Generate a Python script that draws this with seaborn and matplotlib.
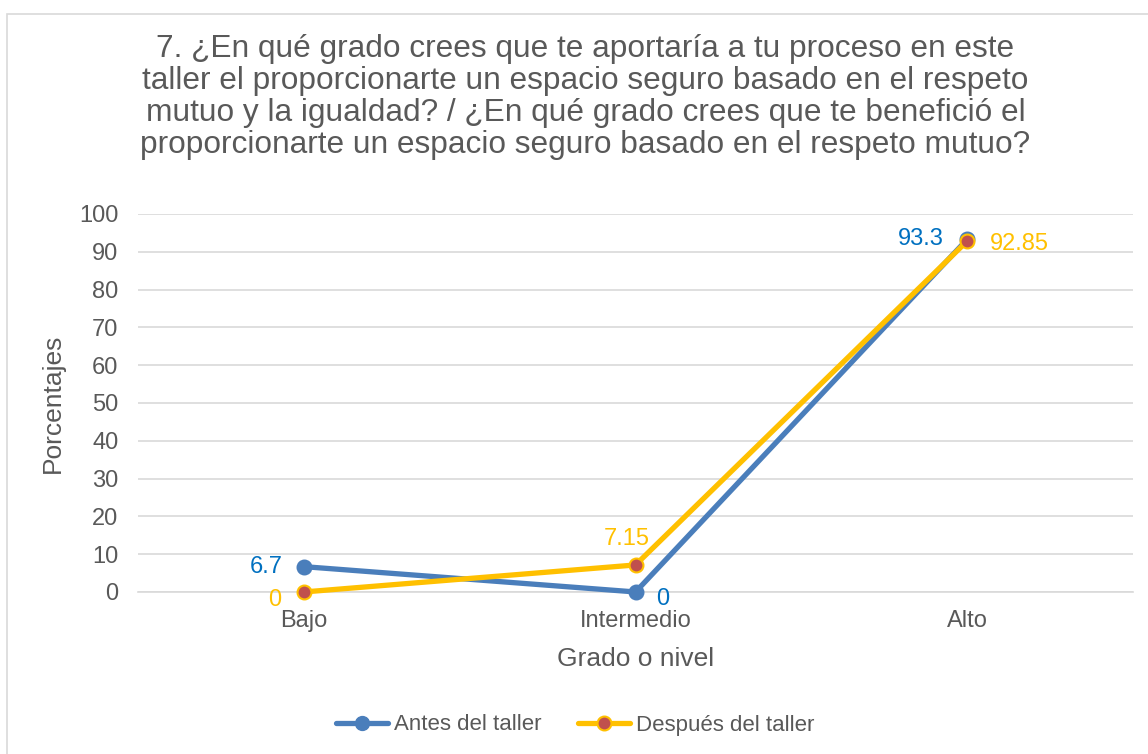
import pandas as pd
import seaborn as sns
import matplotlib.pyplot as plt
from matplotlib.patches import Rectangle

categorias = ["Bajo", "Intermedio", "Alto"]
antes = [6.7, 0, 93.3]
despues = [0, 7.15, 92.85]
antes_labels = ["6.7", "0", "93.3"]
despues_labels = ["0", "7.15", "92.85"]
serie_antes = "Antes del taller"
serie_despues = "Después del taller"

titulo = ("7. ¿En qué grado crees que te aportaría a tu proceso en este\n"
          "taller el proporcionarte un espacio seguro basado en el respeto\n"
          "mutuo y la igualdad? / ¿En qué grado crees que te benefició el\n"
          "proporcionarte un espacio seguro basado en el respeto mutuo?")

df = pd.DataFrame({
    "grado": categorias * 2,
    "valor": antes + despues,
    "serie": [serie_antes] * 3 + [serie_despues] * 3,
})
df["pos"] = df["grado"].map({c: i for i, c in enumerate(categorias)})

sns.set_theme(style="white")
plt.rcParams["font.family"] = ["Liberation Sans", "DejaVu Sans"]
gray = "#595959"
blue = "#4A7EBB"
yellow = "#FFC000"
red = "#C0504D"
lblue = "#0070C0"

fig = plt.figure(figsize=(11.48, 7.54), dpi=100)
ax = fig.add_axes([0.1202, 0.2149, 0.8668, 0.5013])

# border around chart area
fig.patches.append(Rectangle((7 / 1148, -0.1), 1.2, 1 - 14 / 754 + 0.1,
                             transform=fig.transFigure, fill=False,
                             edgecolor="#D9D9D9", linewidth=1.2))

sns.lineplot(data=df, x="pos", y="valor", hue="serie",
             palette={serie_antes: blue, serie_despues: yellow},
             linewidth=3.8, ax=ax, legend=False)
for line, face, edge, z in zip(ax.lines, [blue, red], [blue, yellow], [3, 4]):
    line.set_marker("o")
    line.set_markersize(10)
    line.set_markerfacecolor(face)
    line.set_markeredgecolor(edge)
    line.set_markeredgewidth(1.5)
    line.set_solid_capstyle("round")
    line.set_zorder(z)
    line.set_clip_on(False)

ax.set_xlim(-0.5, 2.5)
ax.set_ylim(0, 100)
ax.set_yticks(range(0, 101, 10))
ax.set_xticks(range(len(categorias)))
ax.set_xticklabels(categorias)
ax.tick_params(axis="y", labelsize=17, labelcolor=gray, length=0, pad=14)
ax.tick_params(axis="x", labelsize=17, labelcolor=gray, length=0, pad=13)
ax.yaxis.grid(True, color="#D9D9D9", linewidth=1.2)
ax.set_axisbelow(True)
for s in ["top", "right", "left"]:
    ax.spines[s].set_visible(False)
ax.spines["bottom"].set_color("#D9D9D9")
ax.spines["bottom"].set_linewidth(1.2)

ax.set_xlabel("Grado o nivel", fontsize=19, color=gray, labelpad=11)
ax.set_ylabel("Porcentajes", fontsize=19, color=gray, labelpad=10)

# data labels
offs_antes = [(-15, 0, "right"), (15, -5, "left"), (-17, 0, "right")]
offs_despues = [(-16, -6, "right"), (-6, 19, "center"), (16, -2, "left")]
for i in range(len(categorias)):
    dx, dy, ha = offs_antes[i]
    ax.annotate(antes_labels[i], (i, antes[i]), xytext=(dx, dy),
                textcoords="offset points", ha=ha, va="center",
                color=lblue, fontsize=17)
    dx, dy, ha = offs_despues[i]
    ax.annotate(despues_labels[i], (i, despues[i]), xytext=(dx, dy),
                textcoords="offset points", ha=ha, va="center",
                color=yellow, fontsize=17)

fig.text(0.51, 1 - 97 / 754, titulo, ha="center", va="center",
         fontsize=22.8, color=gray, linespacing=1.08)

handles = [
    plt.Line2D([], [], color=blue, linewidth=3.8, marker="o", markersize=10,
               markerfacecolor=blue, markeredgecolor=blue),
    plt.Line2D([], [], color=yellow, linewidth=3.8, marker="o", markersize=10,
               markerfacecolor=red, markeredgecolor=yellow, markeredgewidth=1.5),
]
leg = fig.legend(handles, [serie_antes, serie_despues], loc="center",
                 bbox_to_anchor=(575 / 1148, 1 - 725 / 754), ncol=2,
                 frameon=False, fontsize=16, handlelength=2.34,
                 handletextpad=0.25, columnspacing=1.66)
for t in leg.get_texts():
    t.set_color(gray)

fig.savefig("out.png", dpi=100)
